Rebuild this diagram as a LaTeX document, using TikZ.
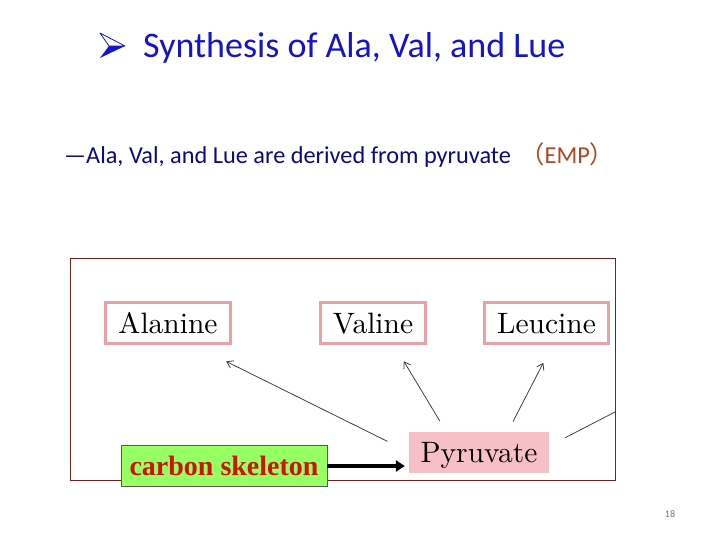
\documentclass[tikz,border=0pt]{standalone}
\usepackage{fontspec}
\newfontfamily\slidefont{Carlito}
\newfontfamily\timesfont{Liberation Serif}
\newfontfamily\cjkfont{Noto Sans CJK SC}
\newfontfamily\cmfont{lmroman10-regular}[Extension=.otf]
\usetikzlibrary{arrows.meta, positioning}
\definecolor{titleBlue}{RGB}{20, 20, 200}
\definecolor{subBlue}{RGB}{10, 10, 130}
\definecolor{empBrown}{RGB}{178, 68, 35}
\definecolor{frameRed}{RGB}{120, 30, 30}
\definecolor{boxPink}{RGB}{235, 160, 165}
\definecolor{pyrPink}{RGB}{246, 192, 198}
\definecolor{skelGreen}{RGB}{150, 255, 100}
\definecolor{skelRed}{RGB}{205, 20, 0}
\tikzset{
    aminobox/.style={draw=boxPink, line width=3pt, fill=white, inner xsep=12.5pt,
        minimum height=41pt, text height=20pt, text depth=0pt,
        font=\cmfont\fontsize{29.5}{32}\selectfont},
    pyrbox/.style={fill=pyrPink, inner xsep=11.5pt, minimum height=41pt,
        text height=20pt, text depth=0pt, font=\cmfont\fontsize{29.5}{32}\selectfont},
    skelbox/.style={draw=black!65, fill=skelGreen, line width=0.8pt,
        minimum width=206pt, minimum height=41pt, text height=19pt, text depth=0pt,
        font=\timesfont\bfseries\fontsize{28}{30}\selectfont, text=skelRed},
    thinarrow/.style={draw=black!75, line width=0.8pt, -{Straight Barb[length=6pt,width=8pt]}},
    thickarrow/.style={draw=black, line width=3.5pt, -{Triangle[length=9pt,width=11pt]}}
}

\begin{document}
\begin{tikzpicture}[x=1pt, y=-1pt]
    \useasboundingbox (0,0) rectangle (720,540);

    % Title with its bullet
    \fill[titleBlue] (109,46) -- (125,46) -- (100,58) -- cycle;
    \draw[titleBlue, fill=white, line width=0.8pt, line join=round] (100,33) -- (125,46) -- (109,46) -- cycle;
    \node[anchor=west, inner sep=0pt, text=titleBlue, font=\slidefont\fontsize{36}{40}\selectfont]
        (title) at (143,48) {Synthesis of Ala, Val, and Lue};
    \node[anchor=west, inner sep=0pt, font=\slidefont\fontsize{24.3}{28}\selectfont]
        (subtitle) at (64,155) {\color{subBlue}—Ala, Val, and Lue are derived from pyruvate\hspace{4pt}
        {\color{empBrown}{\cjkfont （}EMP{\cjkfont ）}}};

    % Frame of the figure
    \draw[frameRed, line width=0.8pt] (70,258) rectangle (615,480);

    % Amino acids and their precursor
    \node[aminobox] (ala) at (168,323) {Alanine};
    \node[aminobox] (val) at (373,323) {Valine};
    \node[aminobox] (leu) at (546.5,323) {Leucine};
    \node[pyrbox] (pyr) at (479,452) {Pyruvate};
    \node[skelbox] (skel) at (224,466) {carbon skeleton};
    \coordinate (offright) at (615,412);

    % Arrows out of pyruvate
    \draw[thinarrow, shorten <=24pt, shorten >=37pt] (pyr.west) -- ([xshift=25pt]ala.south);
    \draw[thinarrow, shorten <=12pt, shorten >=19pt] ([xshift=-33pt]pyr.north) -- ([xshift=21pt]val.south);
    \draw[thinarrow, shorten <=11pt, shorten >=20pt] ([xshift=29pt]pyr.north) -- ([xshift=6pt]leu.south);
    \draw[draw=black!75, line width=0.8pt, shorten <=18pt] ([yshift=6pt]pyr.east) -- (offright);
    \draw[thickarrow, shorten >=4pt] (skel.east) -- (skel.east -| pyr.west);

    % Slide number
    \node[text=black!55, font=\slidefont\fontsize{10}{11}\selectfont] (pagenum) at (670,514) {18};
\end{tikzpicture}
\end{document}
